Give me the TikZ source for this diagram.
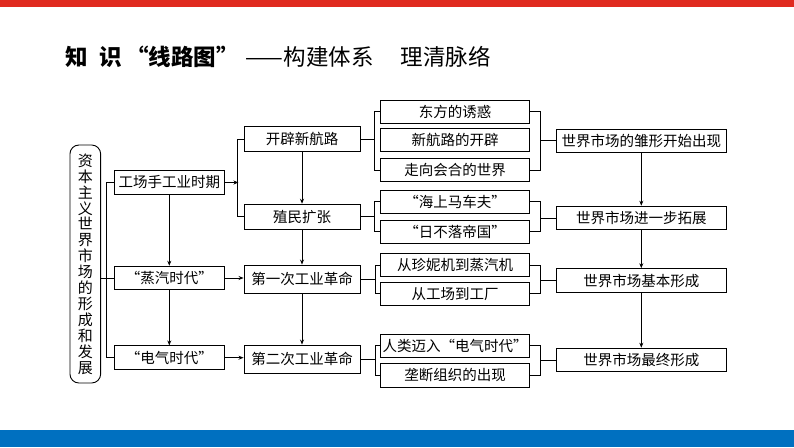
\documentclass[tikz,border=0pt]{standalone}
\usepackage{fontspec}
\setmainfont{Noto Sans CJK SC}
\usetikzlibrary{arrows.meta, positioning}
\definecolor{barred}{HTML}{E02A1F}
\definecolor{barblue}{HTML}{0070C0}

\begin{document}
\begin{tikzpicture}[x=1pt, y=-1pt, on grid, >={Stealth[length=5pt,width=4pt]},
        every path/.style={line width=0.9pt},
        box/.style={draw, inner sep=0pt, minimum width=110pt, minimum height=23.6pt, font=\fontsize{14.5}{16}\selectfont},
        mid/.style={box, minimum width=116pt, minimum height=25pt},
        sub/.style={box, minimum width=148.6pt, minimum height=23.3pt},
        res/.style={box, minimum width=169.3pt, minimum height=23.7pt}]
    \useasboundingbox (0,0) rectangle (794,447);
    \fill[barred] (0,0) rectangle (794,7);
    \fill[barblue] (0,430) rectangle (794,447);
    \node[anchor=west, inner sep=0pt, font=\fontsize{22.5}{24}\selectfont] (title) at (65,57)
        {\textbf{知\hspace{0.5em}识\makebox[1.2em][r]{“}线路图\makebox[1em][l]{”}}\makebox[2em][r]{——}构建体系\hspace{1.2em}理清脉络};

    % left column
    \node[draw, rounded corners=9pt, minimum width=30.7pt, minimum height=238pt, inner sep=0pt,
        align=center, font=\fontsize{15}{15.9}\selectfont] (side) at (85.3,264)
        {资\\本\\主\\义\\世\\界\\市\\场\\的\\形\\成\\和\\发\\展};
    \node[box] (gc) at (169.3,182.5) {工场手工业时期};
    \node[box] (zq) [below=95.5pt of gc] {“蒸汽时代”};
    \node[box] (dq) [below=79.7pt of zq] {“电气时代”};

    % middle column
    \node[mid] (kp) at (302,139.3) {开辟新航路};
    \node[mid] (zm) [below=77.4pt of kp] {殖民扩张};
    \node[mid, minimum height=28pt] (ge1) [below=62.3pt of zm] {第一次工业革命};
    \node[mid, minimum height=28pt] (ge2) [below=80pt of ge1] {第二次工业革命};

    % details
    \node[sub] (b1) at (455,111.7) {东方的诱惑};
    \node[sub] (b2) [below=28.3pt of b1] {新航路的开辟};
    \node[sub] (b3) [below=30pt of b2] {走向会合的世界};
    \node[sub] (b4) [below=31.7pt of b3] {“海上马车夫”};
    \node[sub] (b5) [below=30pt of b4] {“日不落帝国”};
    \node[sub] (b6) [below=33.3pt of b5] {从珍妮机到蒸汽机};
    \node[sub] (b7) [below=28.8pt of b6] {从工场到工厂};
    \node[sub] (b8) [below=52pt of b7] {人类迈入“电气时代”};
    \node[sub] (b9) [below=29.5pt of b8] {垄断组织的出现};

    % results
    \node[res] (r1) at (641.3,140.8) {世界市场的雏形开始出现};
    \node[res] (r2) [below=77.2pt of r1] {世界市场进一步拓展};
    \node[res] (r3) [below=62.5pt of r2] {世界市场基本形成};
    \node[res] (r4) [below=79.5pt of r3] {世界市场最终形成};

    % brackets
    \draw (side.east |- zq.west) -- (zq.west);
    \draw (gc.west) -- ++(-7,0) |- (dq.west);
    \draw (kp.west) -- ++(-6,0) |- (zm.west);
    \draw (kp.east) -- ++(14,0) |- (b1.west) (kp.east) ++(14,0) |- (b3.west);
    \draw (zm.east) -- ++(14,0) |- (b4.west) (zm.east) ++(14,0) |- (b5.west);
    \draw (ge1.east) -- ++(14.7,0) |- (b6.west) (ge1.east) ++(14.7,0) |- (b7.west);
    \draw (ge2.east) -- ++(14.7,0) |- (b8.west) (ge2.east) ++(14.7,0) |- (b9.west);
    \foreach \a/\b/\r in {b1/b3/r1, b4/b5/r2, b6/b7/r3, b8/b9/r4} {
        \draw (\a.east) -- ++(10.7,0) |- (\r.west);
        \draw (\b.east) -- ++(10.7,0) |- (\r.west);
    }

    % arrows
    \draw[->] (gc.east) -- ++(13.7,0);
    \draw[->] (zq.east) -- (zq.east -| ge1.west);
    \draw[->] (dq.east) -- (dq.east -| ge2.west);
    \path[->]
        (gc) edge (zq)
        (zq) edge (dq)
        (kp) edge (zm)
        (zm) edge (ge1)
        (ge1) edge (ge2)
        (r1) edge (r2)
        (r2) edge (r3)
        (r3) edge (r4);
\end{tikzpicture}
\end{document}
